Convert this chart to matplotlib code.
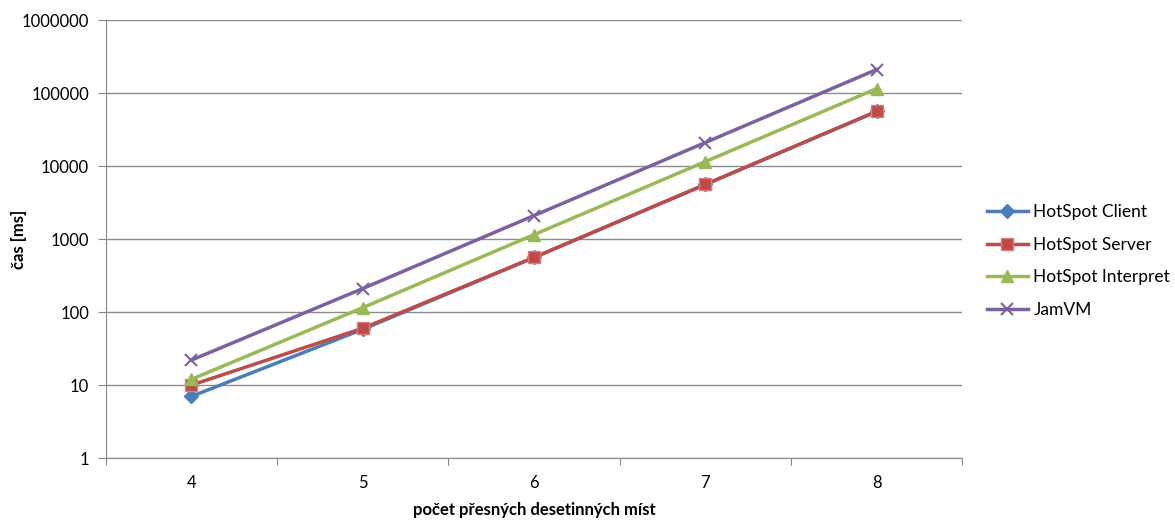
import numpy as np
import matplotlib.pyplot as plt

plt.rcParams['font.family'] = ['Lato', 'DejaVu Sans']

# data
places = [4, 5, 6, 7, 8]
client = [7, 58, 560, 5600, 56000]
server = [10, 60, 560, 5600, 56000]
interpret = [12, 115, 1150, 11500, 115000]
jamvm = [22, 210, 2100, 21000, 210000]

fig = plt.figure(figsize=(11.75, 5.2), dpi=100)
ax = fig.add_axes([0.09, 0.119, 0.729, 0.8425])

ax.plot(places, client, color='#4A7EBB', lw=2.5, marker='D', ms=7, label='HotSpot Client')
ax.plot(places, server, color='#BE4B48', lw=2.5, marker='s', ms=9,
        markeredgecolor='#E07A77', markeredgewidth=1, label='HotSpot Server')
ax.plot(places, interpret, color='#98B954', lw=2.5, marker='^', ms=9, label='HotSpot Interpret')
ax.plot(places, jamvm, color='#7D60A0', lw=2.5, marker='x', ms=9, mew=1.5, label='JamVM')

ax.set_yscale('log')
ax.set_ylim(1, 1e6)
ax.set_xlim(3.5, 8.5)
ax.set_yticks([10 ** i for i in range(7)])
ax.set_yticklabels([str(10 ** i) for i in range(7)])
ax.yaxis.set_minor_locator(plt.NullLocator())

# category axis: ticks between categories, labels centred
ax.set_xticks(np.arange(3.5, 9, 1))
ax.set_xticklabels([])
ax.set_xticks(places, minor=True)
ax.set_xticklabels([str(p) for p in places], minor=True)
ax.tick_params(axis='x', which='minor', length=0, pad=12, labelsize=12)
ax.tick_params(axis='x', which='major', length=5, color='#888888')
ax.tick_params(axis='y', length=6, color='#888888', labelsize=12, pad=6)

ax.grid(axis='y', color='#8C8C8C', lw=1)
ax.set_axisbelow(True)
for s in ['top', 'right']:
    ax.spines[s].set_visible(False)
for s in ['left', 'bottom']:
    ax.spines[s].set_color('#888888')

ax.set_ylabel('čas [ms]', fontsize=12, fontweight='bold')
ax.yaxis.set_label_coords(-0.092, 0.5)
ax.set_xlabel('počet přesných desetinných míst', fontsize=12, fontweight='bold', labelpad=8)

ax.legend(loc='center left', bbox_to_anchor=(1.01, 0.45), frameon=False, fontsize=12.5,
          handlelength=2.4, labelspacing=0.95, handletextpad=0.3)

fig.savefig('out.png', dpi=100)
